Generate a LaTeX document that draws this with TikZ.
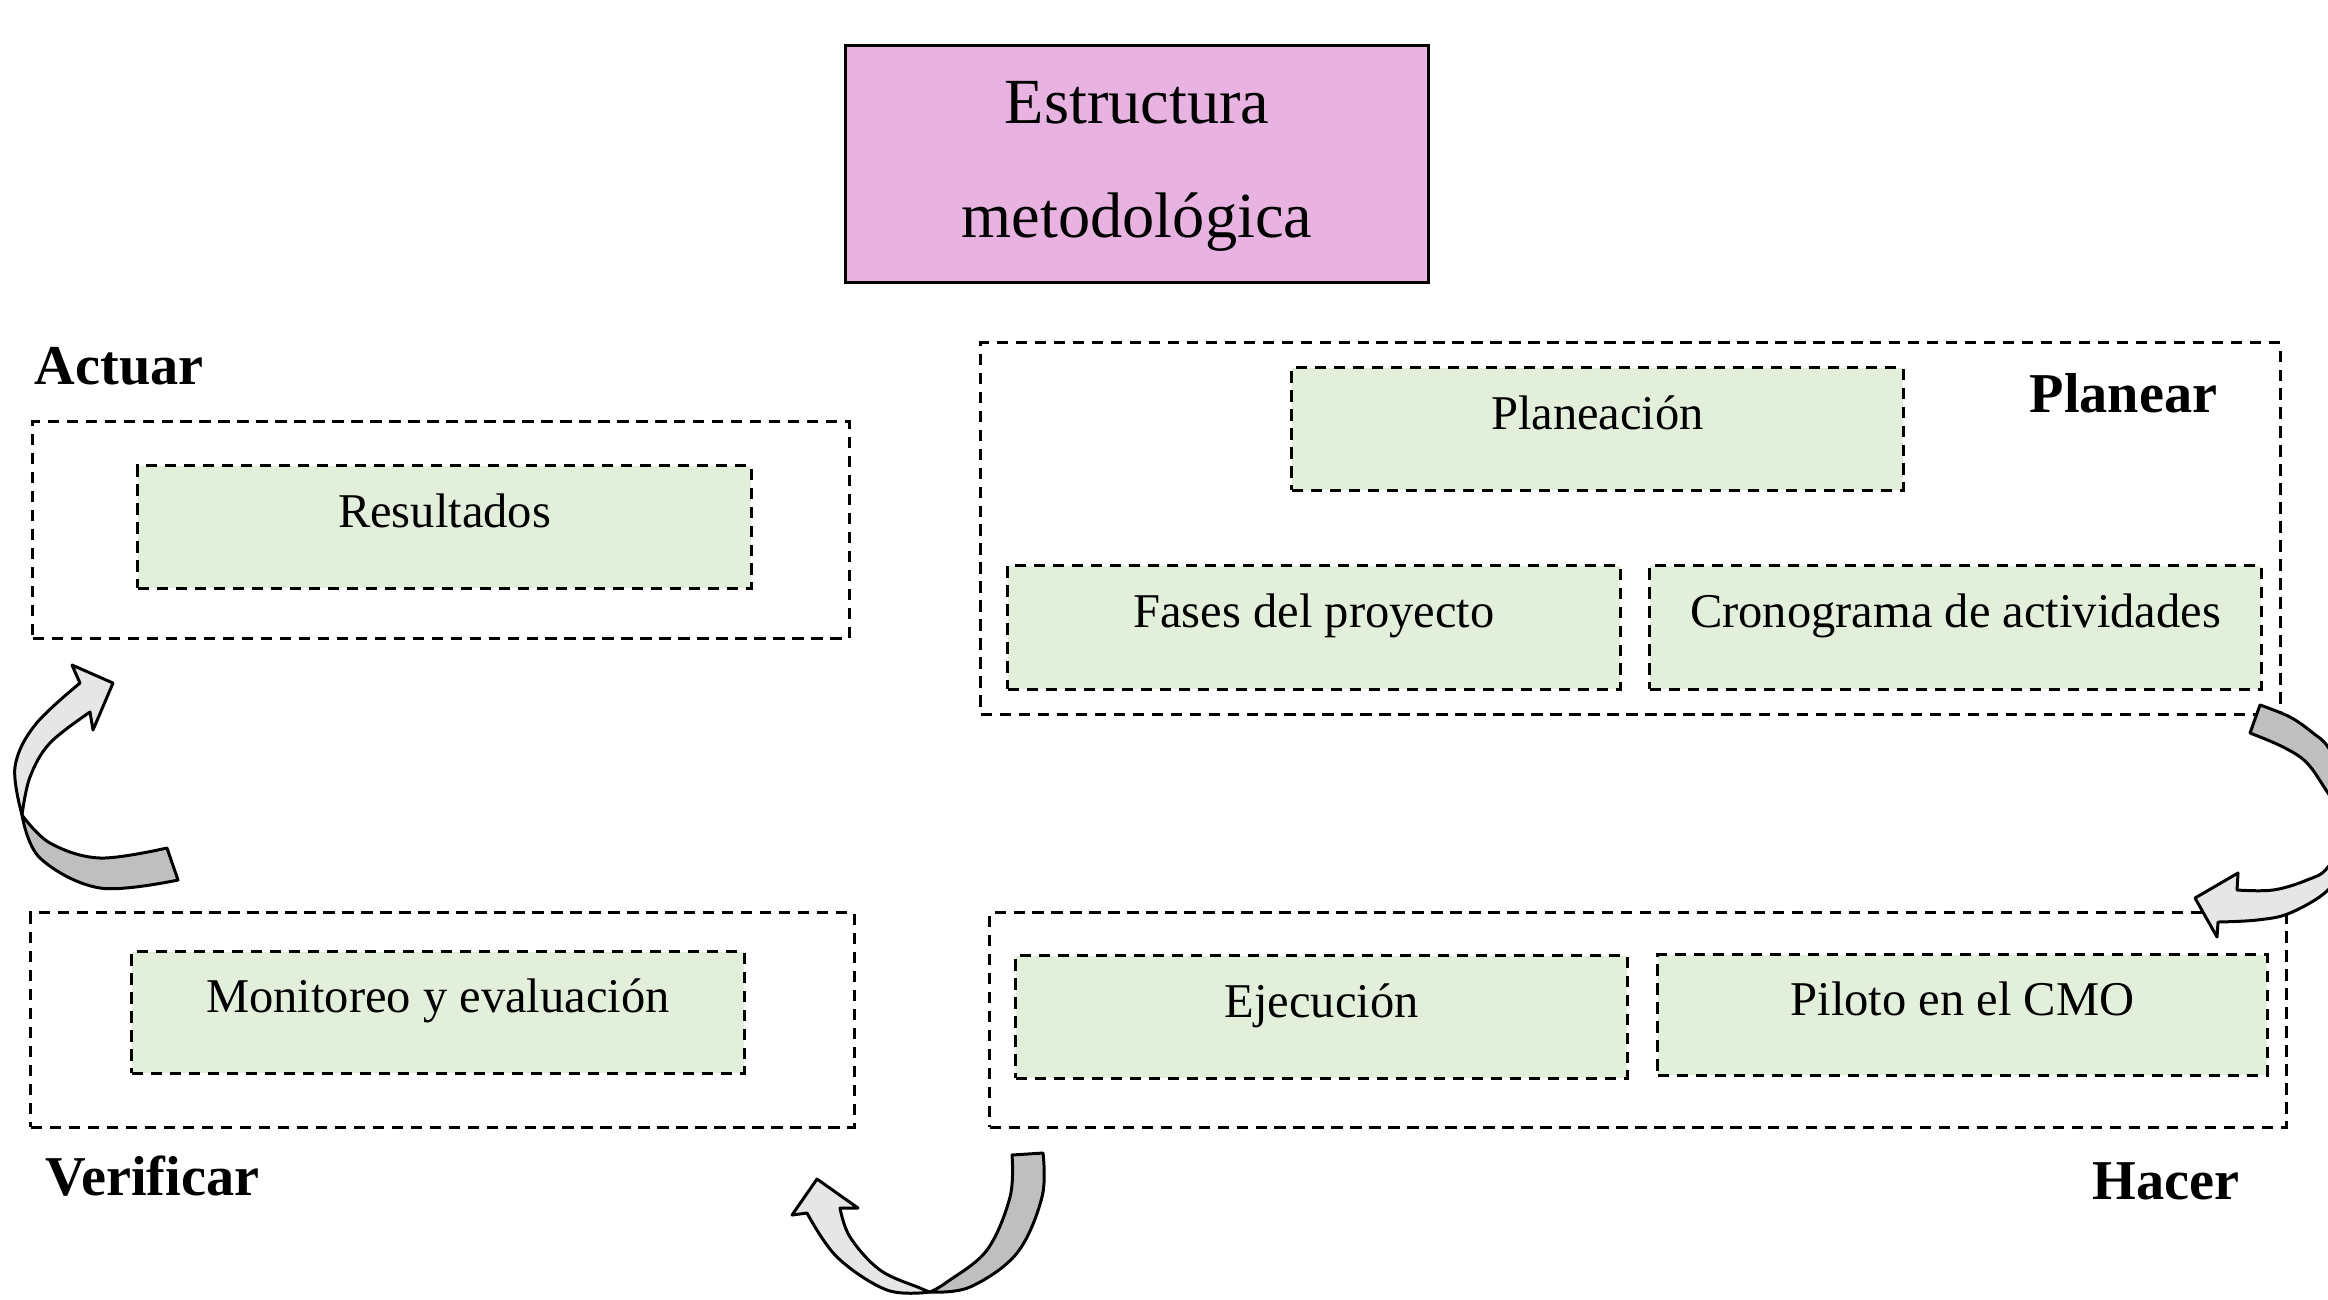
\documentclass[tikz,border=0pt]{standalone}
\usepackage{fontspec}
\setmainfont{Liberation Serif}
\definecolor{boxgreen}{HTML}{E2EFDA}
\definecolor{titlepink}{HTML}{E8B3E0}
\definecolor{arrowdark}{HTML}{BFBFBF}
\definecolor{arrowlight}{HTML}{E7E6E6}
\begin{document}
\begin{tikzpicture}[x=0.01cm,y=-0.01cm,
  dbox/.style={draw, dash pattern=on 3.2pt off 2.2pt, line width=0.85pt, inner sep=0pt, rectangle},
  gbox/.style={dbox, fill=boxgreen, font=\fontsize{13.8}{16}\selectfont, text height=9pt, text depth=9pt},
  phase/.style={font=\fontsize{16}{18}\selectfont\bfseries, inner sep=0pt, anchor=base west},
  titletxt/.style={font=\fontsize{18.3}{22}\selectfont, inner sep=0pt, anchor=base},
  arrowshape/.style={draw, line width=0.85pt, line join=round},
  darkpart/.style={arrowshape, fill=arrowdark},
  lightpart/.style={arrowshape, fill=arrowlight}
]
\useasboundingbox (0,0) rectangle (2328,1299);

% title
\node[draw, line width=0.85pt, fill=titlepink, minimum width=5.82cm, minimum height=2.36cm, inner sep=0pt] (title) at (1137,164) {};
\node[titletxt] (title1) at (1137,123) {Estructura};
\node[titletxt] (title2) at (1137,237) {metodológica};

% Actuar
\node[dbox, minimum width=8.16cm, minimum height=2.16cm] (actbox) at (441,530) {};
\node[gbox, minimum width=6.13cm, minimum height=1.22cm] (resultados) at (444.5,527) {Resultados};
\node[phase] (lact) at (34,384) {Actuar};

% Planear
\node[dbox, minimum width=12.99cm, minimum height=3.71cm] (planbox) at (1630.5,528.5) {};
\node[gbox, minimum width=6.11cm, minimum height=1.22cm] (planeacion) at (1597.5,429) {Planeación};
\node[gbox, minimum width=6.12cm, minimum height=1.23cm] (fases) at (1314,627.5) {Fases del proyecto};
\node[gbox, minimum width=6.11cm, minimum height=1.23cm] (crono) at (1955.5,627.5) {Cronograma de actividades};
\node[phase] (lplan) at (2029,412) {Planear};

% Verificar
\node[dbox, minimum width=8.23cm, minimum height=2.14cm] (verbox) at (442.5,1020) {};
\node[gbox, minimum width=6.12cm, minimum height=1.21cm] (monit) at (438,1012.5) {Monitoreo y evaluación};
\node[phase] (lver) at (45,1195) {Verificar};

% Hacer
\node[dbox, minimum width=12.96cm, minimum height=2.14cm] (hacbox) at (1638,1020) {};
\node[gbox, minimum width=6.11cm, minimum height=1.22cm] (ejec) at (1321.5,1017) {Ejecución};
\node[gbox, minimum width=6.09cm, minimum height=1.20cm] (piloto) at (1962.5,1015) {Piloto en el CMO};
\node[phase] (lhac) at (2092,1199) {Hacer};

% arrow Verificar -> Actuar (left)
\draw[darkpart] (167,848) -- plot[smooth,tension=0.6] coordinates {(178,880) (100,888) (40,858) (22,815)}
  -- plot[smooth,tension=0.6] coordinates {(22,815) (50,843) (100,858) (167,848)} -- cycle;
\draw[lightpart] (22,815) -- plot[smooth,tension=0.6] coordinates {(22,815) (15,767) (35,725) (80,683)}
  -- (72,665) -- (113,683) -- (93,730) -- (90,712)
  -- plot[smooth,tension=0.6] coordinates {(90,712) (50,743) (30,777) (22,815)} -- cycle;

% arrow Hacer -> Verificar (bottom)
\draw[darkpart] (1012,1155) -- (1043,1153) -- plot[smooth,tension=0.6] coordinates {(1043,1153) (1042,1197) (1017,1253) (970,1287) (930,1292)}
  -- plot[smooth,tension=0.6] coordinates {(930,1292) (947,1282) (987,1250) (1010,1197) (1012,1155)} -- cycle;
\draw[lightpart] (930,1292) -- plot[smooth,tension=0.6] coordinates {(930,1292) (887,1290) (837,1257) (807,1213)}
  -- (792,1215) -- (817,1179) -- (858,1208) -- (840,1208)
  -- plot[smooth,tension=0.6] coordinates {(840,1208) (850,1237) (880,1270) (920,1288) (930,1292)} -- cycle;

% arrow Planear -> Hacer (right, clipped by page edge)
\begin{scope}
\clip (0,0) rectangle (2328,1299);
\draw[darkpart] (2250,733) -- (2260,705) -- plot[smooth,tension=0.6] coordinates {(2260,705) (2290,717) (2313,733) (2328,747) (2345,780) (2350,825)}
  -- plot[smooth,tension=0.6] coordinates {(2350,825) (2328,793) (2307,763) (2283,747) (2250,733)} -- cycle;
\draw[lightpart] (2350,825) -- plot[smooth,tension=0.6] coordinates {(2350,825) (2341,862) (2328,890) (2290,913) (2257,920) (2218,922)}
  -- (2217,937) -- (2195,898) -- (2238,873) -- (2237,890)
  -- plot[smooth,tension=0.6] coordinates {(2237,890) (2273,890) (2307,880) (2328,867) (2350,825)} -- cycle;
\end{scope}
\end{tikzpicture}
\end{document}
